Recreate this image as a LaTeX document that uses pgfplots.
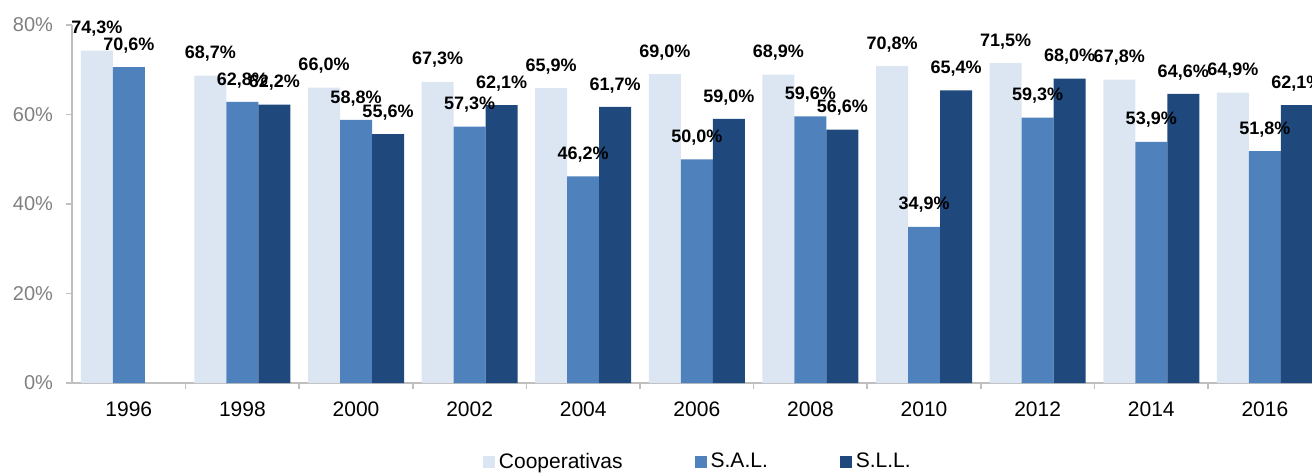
\documentclass[border=0pt]{standalone}
\usepackage{pgfplots}
\pgfplotsset{compat=1.18}
\usepackage{fontspec}
\setmainfont{Liberation Sans}

\definecolor{coop}{HTML}{DCE6F2}
\definecolor{sal}{HTML}{4F81BD}
\definecolor{sll}{HTML}{1F497D}
\definecolor{axisgray}{HTML}{BFBFBF}
\definecolor{labgray}{HTML}{808080}

\begin{document}
\begin{tikzpicture}
\useasboundingbox (-36pt,-44.5pt) rectangle (620pt,191.5pt);
\begin{axis}[
    at={(0,0)}, anchor=south west,
    scale only axis,
    width=620pt, height=179pt,
    clip=false,
    ybar=0pt,
    bar width=16pt,
    xmin=-0.5, xmax=10.415,
    ymin=0, ymax=80,
    axis x line*=bottom,
    axis y line*=left,
    axis line style={axisgray, line width=0.8pt},
    ytick={0,20,40,60,80},
    yticklabels={0\%,20\%,40\%,60\%,80\%},
    yticklabel style={text=labgray, font=\fontsize{10}{12}\selectfont, xshift=-3pt},
    ytick style={axisgray, line width=0.8pt},
    tick align=outside,
    major tick length=3pt,
    minor tick length=3pt,
    xtick={0,...,10},
    xticklabels={1996,1998,2000,2002,2004,2006,2008,2010,2012,2014,2016},
    xticklabel style={font=\fontsize{10.5}{12}\selectfont, yshift=-3pt},
    major x tick style={draw=none},
    minor xtick={0.5,1.5,...,9.5},
    minor x tick style={axisgray, line width=0.8pt},
    nodes near coords={\pgfmathprintnumber[fixed,fixed zerofill,precision=1,use comma,assume math mode=true]{\pgfplotspointmeta}\%},
    every node near coord/.append style={font=\bfseries\fontsize{9}{10}\selectfont, text=black, yshift=3.5pt},
    legend columns=3,
    legend style={draw=none, at={(0.5055,-0.2207)}, anchor=center,
      font=\fontsize{10.5}{12}\selectfont,
      /tikz/every even column/.append style={column sep=34pt}},
    legend image code/.code={\fill[#1] (0pt,-3pt) rectangle (6pt,3pt);},
]
\addplot[fill=coop, draw=none] coordinates {
  (0,74.3) (1,68.7) (2,66.0) (3,67.3) (4,65.9) (5,69.0)
  (6,68.9) (7,70.8) (8,71.5) (9,67.8) (10,64.9)};
\addplot[fill=sal, draw=none] coordinates {
  (0,70.6) (1,62.8) (2,58.8) (3,57.3) (4,46.2) (5,50.0)
  (6,59.6) (7,34.9) (8,59.3) (9,53.9) (10,51.8)};
\addplot[fill=sll, draw=none] coordinates {
  (1,62.2) (2,55.6) (3,62.1) (4,61.7) (5,59.0)
  (6,56.6) (7,65.4) (8,68.0) (9,64.6) (10,62.1)};
\legend{Cooperativas, S.A.L., S.L.L.}
\end{axis}
\end{tikzpicture}
\end{document}
